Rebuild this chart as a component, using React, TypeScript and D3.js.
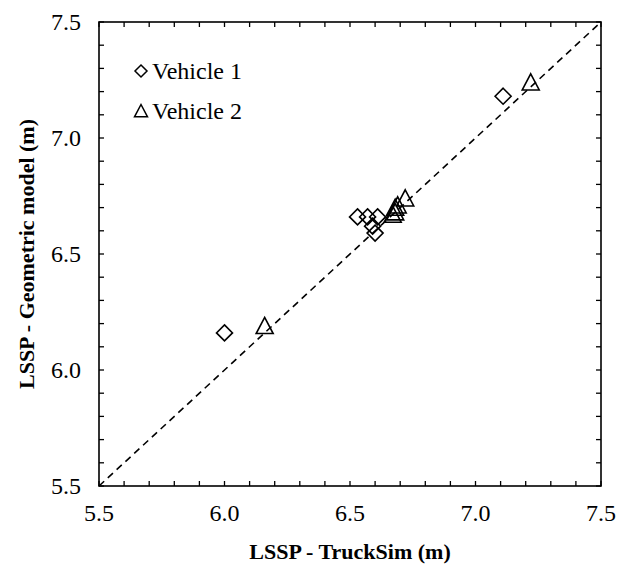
import React from "react";
import * as d3 from "d3";

// LSSP comparison: TruckSim (x) vs geometric model (y), metres
const vehicle1X = [6.0, 6.53, 6.57, 6.61, 6.59, 6.6, 7.11];
const vehicle1Y = [6.16, 6.66, 6.66, 6.66, 6.62, 6.59, 7.18];
const vehicle2X = [6.16, 6.67, 6.68, 6.68, 6.69, 6.72, 7.22];
const vehicle2Y = [6.19, 6.67, 6.68, 6.7, 6.71, 6.74, 7.24];
const majorTicks = [5.5, 6.0, 6.5, 7.0, 7.5];
const seriesNames = ["Vehicle 1", "Vehicle 2"];

const W = 619;
const H = 569;
const m = { left: 99, right: 18, top: 22, bottom: 83 };
const FONT = "'Liberation Serif', 'Times New Roman', serif";

export default function App() {
  const x = d3.scaleLinear().domain([5.5, 7.5]).range([m.left, W - m.right]);
  const y = d3.scaleLinear().domain([5.5, 7.5]).range([H - m.bottom, m.top]);
  const minor = d3.range(0, 21).map((i) => 5.5 + i * 0.1);
  const tickLen = 5;

  const diamond = (cx: number, cy: number, r = 8) =>
    `M${cx},${cy - r}L${cx + r},${cy}L${cx},${cy + r}L${cx - r},${cy}Z`;
  const triangle = (cx: number, cy: number, s = 8.5) =>
    `M${cx},${cy - s}L${cx + s},${cy + s * 0.9}L${cx - s},${cy + s * 0.9}Z`;

  const x0 = x.range()[0], x1 = x.range()[1];
  const y0 = y.range()[0], y1 = y.range()[1];

  return (
    <svg width={W} height={H} style={{ position: "absolute", left: 0, top: 0, background: "#fff" }}>
      <rect width={W} height={H} fill="#fff" />
      {/* identity line */}
      <line x1={x(5.5)} y1={y(5.5)} x2={x(7.5)} y2={y(7.5)} stroke="#000" strokeWidth={1.6} strokeDasharray="7,5" />
      {/* ticks on all four sides, pointing inward */}
      {minor.map((v, i) => (
        <g key={i} stroke="#000" strokeWidth={1.3}>
          <line x1={x(v)} x2={x(v)} y1={y0} y2={y0 - tickLen} />
          <line x1={x(v)} x2={x(v)} y1={y1} y2={y1 + tickLen} />
          <line y1={y(v)} y2={y(v)} x1={x0} x2={x0 + tickLen} />
          <line y1={y(v)} y2={y(v)} x1={x1} x2={x1 - tickLen} />
        </g>
      ))}
      <rect x={x0} y={y1} width={x1 - x0} height={y0 - y1} fill="none" stroke="#000" strokeWidth={1.6} />
      {/* tick labels */}
      {majorTicks.map((v) => (
        <text key={"x" + v} x={x(v)} y={y0 + 35} textAnchor="middle" fontFamily={FONT} fontSize={24}>
          {v.toFixed(1)}
        </text>
      ))}
      {majorTicks.map((v) => (
        <text key={"y" + v} x={x0 - 18} y={y(v) + 8} textAnchor="end" fontFamily={FONT} fontSize={24}>
          {v.toFixed(1)}
        </text>
      ))}
      <text x={(x0 + x1) / 2} y={H - 10} textAnchor="middle" fontFamily={FONT} fontSize={22} fontWeight="bold">
        LSSP - TruckSim (m)
      </text>
      <text
        transform={`translate(34,${(y0 + y1) / 2}) rotate(-90)`}
        textAnchor="middle"
        fontFamily={FONT}
        fontSize={22}
        fontWeight="bold"
      >
        LSSP - Geometric model (m)
      </text>
      {/* markers */}
      {vehicle1X.map((v, i) => (
        <path key={"d" + i} d={diamond(x(v), y(vehicle1Y[i]))} fill="none" stroke="#000" strokeWidth={1.6} />
      ))}
      {vehicle2X.map((v, i) => (
        <path key={"t" + i} d={triangle(x(v), y(vehicle2Y[i]))} fill="none" stroke="#000" strokeWidth={1.6} />
      ))}
      {/* legend */}
      <path d={diamond(141, 71, 6)} fill="none" stroke="#000" strokeWidth={1.5} />
      <text x={152} y={79} fontFamily={FONT} fontSize={24}>{seriesNames[0]}</text>
      <path d={triangle(141, 111, 6.5)} fill="none" stroke="#000" strokeWidth={1.5} />
      <text x={152} y={119} fontFamily={FONT} fontSize={24}>{seriesNames[1]}</text>
    </svg>
  );
}
